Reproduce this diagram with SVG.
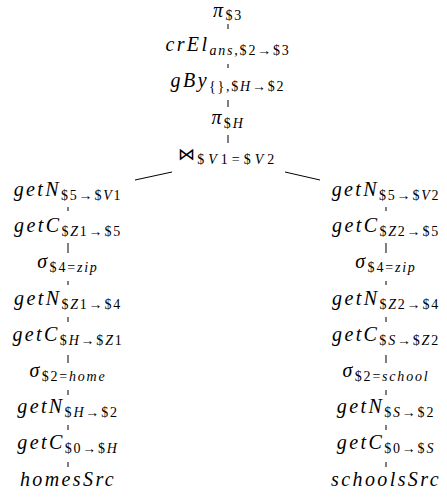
<svg xmlns="http://www.w3.org/2000/svg" width="447" height="498" viewBox="0 0 447 498">
<style>
text{font-family:"Liberation Serif","DejaVu Serif",serif;fill:#000;text-anchor:middle}
.m{font-size:20px;font-style:italic;letter-spacing:2.4px}
.s{font-size:14px;font-style:normal;letter-spacing:1.8px}
.i{font-style:italic}
.w{letter-spacing:4px}
.op{font-style:normal;font-family:"DejaVu Serif",serif;font-size:17px}
#edges line{stroke:#000;stroke-width:1}
</style>
<rect width="447" height="498" fill="#fff"/>
<g id="edges">
<line x1="228" y1="24" x2="228" y2="29"/>
<line x1="228" y1="64" x2="228" y2="68"/>
<line x1="228" y1="100" x2="228" y2="107"/>
<line x1="228" y1="135" x2="228" y2="143"/>
<line x1="135" y1="180" x2="172" y2="172"/>
<line x1="285" y1="172" x2="320" y2="180"/>
<line x1="68" y1="207" x2="68" y2="211"/>
<line x1="68" y1="243" x2="68" y2="253"/>
<line x1="68" y1="281" x2="68" y2="285"/>
<line x1="68" y1="317" x2="68" y2="322"/>
<line x1="68" y1="355" x2="68" y2="363"/>
<line x1="68" y1="390" x2="68" y2="395"/>
<line x1="68" y1="425" x2="68" y2="430"/>
<line x1="68" y1="462" x2="68" y2="467"/>
<line x1="386" y1="207" x2="386" y2="211"/>
<line x1="386" y1="243" x2="386" y2="253"/>
<line x1="386" y1="281" x2="386" y2="285"/>
<line x1="386" y1="317" x2="386" y2="322"/>
<line x1="386" y1="355" x2="386" y2="363"/>
<line x1="386" y1="390" x2="386" y2="395"/>
<line x1="386" y1="425" x2="386" y2="430"/>
<line x1="386" y1="462" x2="386" y2="467"/>
</g>
<g id="n_pi3"><text class="m" x="228" y="17">π<tspan class="s" dy="3">$3</tspan></text></g>
<g id="n_crEl"><text class="m" x="228" y="51">crEl<tspan class="s i" dy="4">ans</tspan><tspan class="s">,$2→$3</tspan></text></g>
<g id="n_gBy"><text class="m" x="228" y="87">gBy<tspan class="s" dy="4">{},$<tspan class="i">H</tspan>→$2</tspan></text></g>
<g id="n_piH"><text class="m" x="228" y="124">π<tspan class="s" dy="4">$<tspan class="i">H</tspan></tspan></text></g>
<g id="n_join"><text class="m" x="228" y="160"><tspan class="op">⋈</tspan><tspan class="s w" dy="4">$<tspan class="i">V</tspan>1=$<tspan class="i">V</tspan>2</tspan></text></g>

<g id="l1"><text class="m" x="68" y="196">getN<tspan class="s" dy="4">$5→$<tspan class="i">V</tspan>1</tspan></text></g>
<g id="l2"><text class="m" x="68" y="232">getC<tspan class="s" dy="4">$<tspan class="i">Z</tspan>1→$5</tspan></text></g>
<g id="l3"><text class="m" x="68" y="268">σ<tspan class="s" dy="4">$4=<tspan class="i">zip</tspan></tspan></text></g>
<g id="l4"><text class="m" x="68" y="305">getN<tspan class="s" dy="4">$<tspan class="i">Z</tspan>1→$4</tspan></text></g>
<g id="l5"><text class="m" x="68" y="341">getC<tspan class="s" dy="4">$<tspan class="i">H</tspan>→$<tspan class="i">Z</tspan>1</tspan></text></g>
<g id="l6"><text class="m" x="68" y="377">σ<tspan class="s" dy="4">$2=<tspan class="i">home</tspan></tspan></text></g>
<g id="l7"><text class="m" x="68" y="413">getN<tspan class="s" dy="4">$<tspan class="i">H</tspan>→$2</tspan></text></g>
<g id="l8"><text class="m" x="68" y="449">getC<tspan class="s" dy="4">$0→$<tspan class="i">H</tspan></tspan></text></g>
<g id="l9"><text class="m" x="68" y="486">homesSrc</text></g>

<g id="r1"><text class="m" x="386" y="196">getN<tspan class="s" dy="4">$5→$<tspan class="i">V</tspan>2</tspan></text></g>
<g id="r2"><text class="m" x="386" y="232">getC<tspan class="s" dy="4">$<tspan class="i">Z</tspan>2→$5</tspan></text></g>
<g id="r3"><text class="m" x="386" y="268">σ<tspan class="s" dy="4">$4=<tspan class="i">zip</tspan></tspan></text></g>
<g id="r4"><text class="m" x="386" y="305">getN<tspan class="s" dy="4">$<tspan class="i">Z</tspan>2→$4</tspan></text></g>
<g id="r5"><text class="m" x="386" y="341">getC<tspan class="s" dy="4">$<tspan class="i">S</tspan>→$<tspan class="i">Z</tspan>2</tspan></text></g>
<g id="r6"><text class="m" x="386" y="377">σ<tspan class="s" dy="4">$2=<tspan class="i">school</tspan></tspan></text></g>
<g id="r7"><text class="m" x="386" y="413">getN<tspan class="s" dy="4">$<tspan class="i">S</tspan>→$2</tspan></text></g>
<g id="r8"><text class="m" x="386" y="449">getC<tspan class="s" dy="4">$0→$<tspan class="i">S</tspan></tspan></text></g>
<g id="r9"><text class="m" x="386" y="486">schoolsSrc</text></g>
</svg>
